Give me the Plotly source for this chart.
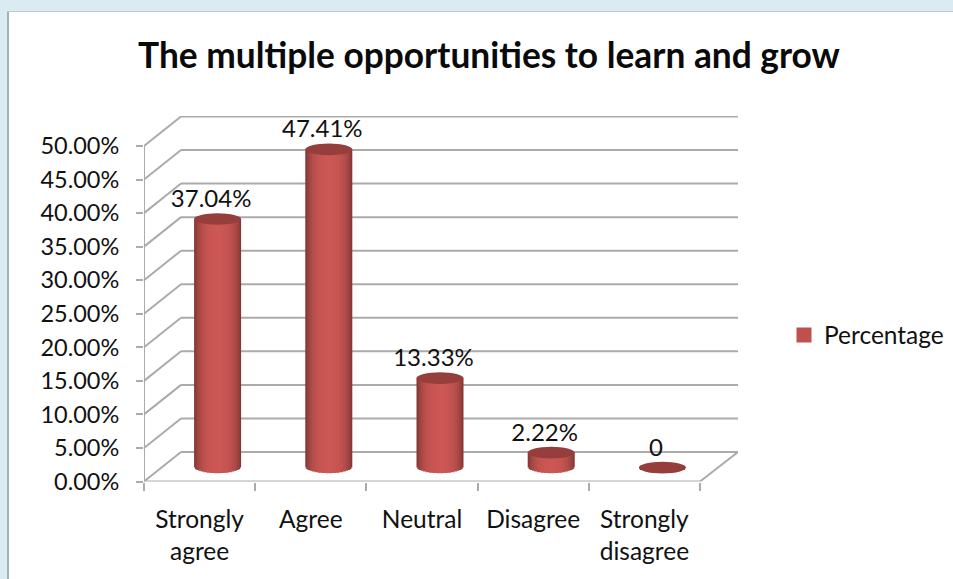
import plotly.graph_objects as go

categories = ["Strongly<br>agree", "Agree", "Neutral", "Disagree", "Strongly<br>disagree"]
values = [37.04, 47.41, 13.33, 2.22, 0]
y_ticks = [0, 5, 10, 15, 20, 25, 30, 35, 40, 45, 50]
y_tick_labels = ["0.00%", "5.00%", "10.00%", "15.00%", "20.00%", "25.00%", "30.00%",
                 "35.00%", "40.00%", "45.00%", "50.00%"]
series_name = "Percentage"
title_text = "The multiple opportunities to learn and grow"

W, H = 953, 579
X0, X1 = 144, 738      # plot domain px
Y0, Y1 = 481.5, 116
CAT_PX = 111.2
Y_PX = 6.71
FONT = "Lato, 'Open Sans', sans-serif"
TXT = "#111111"

x_range = [-0.5, -0.5 + (X1 - X0) / CAT_PX]
y_range = [0, (Y0 - Y1) / Y_PX]
wall_dx = 37 / CAT_PX
wall_dy = 4.4
floor_dx = 18.0 / CAT_PX
floor_dy = 2.08
bar_half = 23.5 / CAT_PX
ell_dy = 5.8 / Y_PX

shades = ["#843533", "#8f3c3a", "#9c4340", "#a94946", "#b54e4b", "#bf524f", "#c65452", "#ca5654", "#cd5755"]
fracs = [1.0, 0.96, 0.9, 0.82, 0.72, 0.6, 0.46, 0.3, 0.14]

fig = go.Figure()
xpos = [i + floor_dx for i in range(len(values))]
for col, f in zip(shades, fracs):
    depth = ell_dy * (1 - f * f) ** 0.5
    fig.add_bar(x=xpos, y=[v + depth for v in values], base=[floor_dy - depth] * len(values),
                width=2 * bar_half * f, marker=dict(color=col, line=dict(width=0)),
                showlegend=False, hoverinfo="skip")

label_text = [f"{v:.2f}%" if v else "0" for v in values]
fig.add_scatter(x=[x - 6.5 / CAT_PX for x in xpos], y=[v + floor_dy + 18 / Y_PX for v in values],
                mode="text", text=label_text, textposition="middle center",
                textfont=dict(family=FONT, size=24, color=TXT), showlegend=False, hoverinfo="skip",
                cliponaxis=False)
fig.add_scatter(x=[None], y=[None], mode="markers", name=series_name,
                marker=dict(symbol="square", size=15, color="#C0504D"))

shapes = []
GRID = dict(color="#ababab", width=2)
for v in y_ticks:
    shapes.append(dict(type="line", xref="x", yref="y", layer="below",
                       x0=-0.5 + wall_dx, x1=x_range[1], y0=v + wall_dy, y1=v + wall_dy, line=GRID))
    shapes.append(dict(type="line", xref="x", yref="y", layer="below",
                       x0=-0.5, x1=-0.5 + wall_dx, y0=v, y1=v + wall_dy, line=GRID))
n = len(values)
shapes.append(dict(type="line", xref="x", yref="y", layer="below",
                   x0=n - 0.5, x1=x_range[1], y0=0, y1=wall_dy, line=GRID))
shapes.append(dict(type="line", xref="x", yref="y", layer="below",
                   x0=-0.5, x1=n - 0.5, y0=0, y1=0, line=GRID))
shapes.append(dict(type="line", xref="x", yref="y", layer="below",
                   x0=-0.5, x1=-0.5, y0=0, y1=y_ticks[-1], line=GRID))
for x, v in zip(xpos, values):
    top = v + floor_dy
    shapes.append(dict(type="circle", xref="x", yref="y", layer="above",
                       x0=x - bar_half, x1=x + bar_half, y0=top - ell_dy, y1=top + ell_dy,
                       fillcolor="#963e3c", line=dict(width=0)))
# page surround
shapes.append(dict(type="rect", xref="paper", yref="paper", x0=0, x1=1, y0=1 - 11 / H, y1=1,
                   fillcolor="#dbebf2", line=dict(width=0), layer="below"))
shapes.append(dict(type="rect", xref="paper", yref="paper", x0=0, x1=7 / W, y0=0, y1=1,
                   fillcolor="#dbebf2", line=dict(width=0), layer="below"))
shapes.append(dict(type="rect", xref="paper", yref="paper", x0=7 / W, x1=9 / W, y0=0, y1=1 - 11 / H,
                   fillcolor="#9fb0b8", line=dict(width=0), layer="below"))
shapes.append(dict(type="rect", xref="paper", yref="paper", x0=7 / W, x1=1, y0=1 - 12 / H, y1=1 - 11 / H,
                   fillcolor="#b7cbd6", line=dict(width=0), layer="below"))

fig.update_layout(
    width=W, height=H, margin=dict(l=0, r=0, t=0, b=0), autosize=False,
    paper_bgcolor="white", plot_bgcolor="rgba(0,0,0,0)", barmode="overlay",
    font=dict(family=FONT, size=22, color=TXT),
    title=dict(text=f"<b>{title_text}</b>", x=489 / W, y=1 - 56 / H, xref="paper", yref="paper",
               xanchor="center", yanchor="middle", font=dict(family=FONT, size=35.3, color="#0a0a0a")),
    xaxis=dict(domain=[X0 / W, X1 / W], range=x_range, tickmode="array", automargin=False,
               tickvals=list(range(n)), ticktext=categories, ticks="", showgrid=False, zeroline=False,
               tickfont=dict(family=FONT, size=24.5, color=TXT), ticklabelstandoff=21,
               minor=dict(ticks="outside", ticklen=8, tickwidth=2, tickcolor="#ababab",
                          tick0=-0.5, dtick=1, showgrid=False)),
    yaxis=dict(domain=[1 - Y0 / H, 1 - Y1 / H], range=y_range, tickmode="array", automargin=False,
               tickvals=y_ticks, ticktext=y_tick_labels, ticks="outside", ticklen=7, tickwidth=2,
               tickcolor="#ababab", showgrid=False, zeroline=False, ticklabelstandoff=12,
               tickfont=dict(family=FONT, size=23.5, color=TXT)),
    legend=dict(x=784 / W, y=1 - 335 / H, xanchor="left", yanchor="middle",
                font=dict(family=FONT, size=24.5, color=TXT), bgcolor="rgba(0,0,0,0)", itemwidth=30),
    shapes=shapes,
)
fig.write_html("out.html", config=dict(displayModeBar=False, responsive=False),
               post_script="document.body.style.margin='0';")
